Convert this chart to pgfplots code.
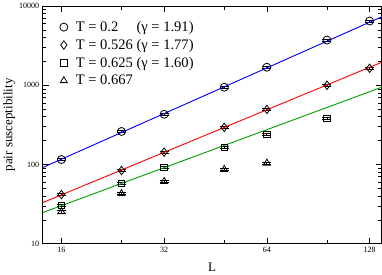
\documentclass[border=0pt]{standalone}
\usepackage{pgfplots}
\pgfplotsset{compat=1.18}
\usepackage{fontspec}
\setmainfont{Liberation Serif}
\definecolor{lblue}{RGB}{0,0,255}
\definecolor{lred}{RGB}{255,0,0}
\definecolor{lgreen}{RGB}{0,160,0}
\begin{document}
\begin{tikzpicture}
\begin{axis}[
  scale only axis,
  width=338pt, height=237pt,
  xmode=log, ymode=log,
  xmin=14.1, xmax=138.8,
  ymin=10, ymax=10000,
  xtick={16,32,64,128},
  xticklabels={16,32,64,128},
  minor xtick={24,48,96},
  ytick={10,100,1000,10000},
  yticklabels={10,100,1000,10000},
  tick align=inside,
  major tick length=6pt,
  minor tick length=3.5pt,
  tick style={black, line width=0.6pt},
  axis line style={line width=0.8pt},
  ticklabel style={font=\fontsize{8}{9}\selectfont},
  xlabel={L}, ylabel={pair susceptibility},
  label style={font=\fontsize{13}{14}\selectfont},
  xlabel style={yshift=-3pt},
  ylabel style={yshift=-3pt},
  legend style={draw=none, fill=none, at={(axis description cs:0.05,0.945)}, anchor=north west,
    font=\fontsize{14.5}{16}\selectfont, row sep=2.3pt, inner sep=0pt,
    /tikz/every odd column/.append style={column sep=6pt}},
  legend cell align=left,
  error bars/y dir=both, error bars/y explicit,
  error bars/error mark options={rotate=90, mark size=4.5pt, line width=0.8pt},
  error bars/error bar style={line width=0.8pt},
]
\addplot[only marks, mark=o, mark size=4pt, black, line width=0.8pt] coordinates {
 (16,115.6) +- (0,3) (24,261) +- (0,7) (32,430) +- (0,12) (48,944) +- (0,25)
 (64,1690) +- (0,45) (96,3720) +- (0,100) (128,6470) +- (0,170)};
\addlegendentry{T = 0.2\hphantom{26} (γ = 1.91)}
\addplot[only marks, mark=diamond, mark size=4.2pt, black, line width=0.8pt] coordinates {
 (16,41.7) +- (0,1) (24,84) +- (0,2) (32,143) +- (0,4) (48,294) +- (0,8)
 (64,496) +- (0,13) (96,1000) +- (0,27) (128,1640) +- (0,44)};
\addlegendentry{T = 0.526 (γ = 1.77)}
\addplot[only marks, mark=square, mark size=3.3pt, black, line width=0.8pt] coordinates {
 (16,30.3) +- (0,1) (24,57.5) +- (0,2) (32,91.5) +- (0,3) (48,164) +- (0,5)
 (64,240) +- (0,8) (96,383) +- (0,12)};
\addlegendentry{T = 0.625 (γ = 1.60)}
\addplot[only marks, mark=triangle, mark size=4pt, black, line width=0.8pt] coordinates {
 (16,25.4) +- (0,1) (24,43) +- (0,1.5) (32,61) +- (0,2) (48,86.6) +- (0,3)
 (64,104) +- (0,3.5)};
\addlegendentry{T = 0.667}
\addplot[lblue, line width=0.9pt, forget plot, no marks, error bars/y dir=none] coordinates {(14.1,91.5) (138.8,7300)};
\addplot[lred, line width=0.9pt, forget plot, no marks, error bars/y dir=none] coordinates {(14.1,33) (138.8,1950)};
\addplot[lgreen, line width=0.9pt, forget plot, no marks, error bars/y dir=none] coordinates {(14.1,24.7) (138.8,944)};
\end{axis}
\end{tikzpicture}
\end{document}
